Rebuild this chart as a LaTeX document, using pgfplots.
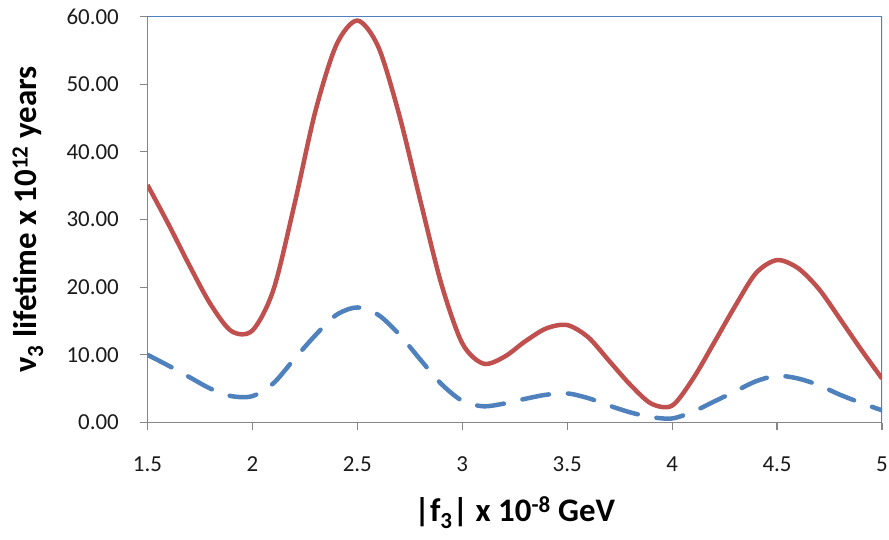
\documentclass[border=0pt]{standalone}
\usepackage{fontspec}
\setmainfont{Carlito}
\usepackage{pgfplots}
\pgfplotsset{compat=1.18}

\definecolor{exred}{RGB}{192,80,77}
\definecolor{exblue}{RGB}{79,129,189}
\definecolor{axgray}{RGB}{134,134,134}
\definecolor{txt}{RGB}{26,26,26}

\begin{document}
\begin{tikzpicture}
\begin{axis}[
    scale only axis,
    width=734.5bp, height=406bp,
    xmin=1.5, xmax=5,
    ymin=0, ymax=60,
    xtick={1.5,2,2.5,3,3.5,4,4.5,5},
    ytick={0,10,20,30,40,50,60},
    axis x line*=bottom,
    axis y line*=left,
    axis line style={-, draw=axgray, line width=1.2bp},
    tick style={draw=axgray, line width=1.2bp},
    tick align=outside,
    major tick length=7bp,
    /pgf/number format/assume math mode=true,
    yticklabel style={/pgf/number format/.cd, fixed, fixed zerofill, precision=2, /tikz/.cd},
    ticklabel style={font=\fontsize{23}{27}\selectfont, text=txt, inner sep=0pt},
    xticklabel style={anchor=north, yshift=-34bp+7bp},
    yticklabel style={anchor=east, xshift=-28.5bp+7bp},
    xlabel={\textbf{|f\textsubscript{3}| x 10\textsuperscript{-8} GeV}},
    ylabel={\textbf{ν\textsubscript{3} lifetime x 10\textsuperscript{12} years}},
    label style={font=\fontsize{33}{37}\selectfont, text=black},
    xlabel style={at={(axis description cs:0.5,-0.2438)}, anchor=base},
    ylabel style={at={(axis description cs:-0.1627,0.5)}, anchor=center},
]
\draw[exblue, line width=1.3bp] (rel axis cs:0,1) -- (rel axis cs:1,1) -- (rel axis cs:1,0);

% red series
\addplot[exred, line width=4.5bp, smooth] coordinates {
    (1.5,35.1) (1.6,29.3) (1.7,23.2) (1.8,17.5) (1.9,13.5) (2.0,13.6)
    (2.1,19.6) (2.2,32.2) (2.3,46.0) (2.4,55.8) (2.5,59.4) (2.6,55.5)
    (2.7,45.4) (2.8,32.8) (2.9,20.5) (3.0,11.7) (3.1,8.7) (3.2,9.7)
    (3.3,12.0) (3.4,13.9) (3.5,14.4) (3.6,12.6) (3.7,9.1) (3.8,5.6)
    (3.9,2.8) (4.0,2.5) (4.1,6.5) (4.2,11.8) (4.3,17.2) (4.4,22.1)
    (4.5,24.0) (4.6,22.8) (4.7,19.7) (4.8,15.3) (4.9,10.8) (5.0,6.5)
};
% blue series
\addplot[exblue, line width=4.5bp, smooth, line cap=round, dash pattern=on 27bp off 19bp] coordinates {
    (1.5,10.0) (1.6,8.4) (1.7,6.7) (1.8,5.0) (1.9,3.9) (2.0,3.9)
    (2.1,5.8) (2.2,9.4) (2.3,12.9) (2.4,15.9) (2.5,17.0) (2.6,15.9)
    (2.7,13.0) (2.8,9.3) (2.9,5.7) (3.0,3.2) (3.1,2.4) (3.2,2.8)
    (3.3,3.5) (3.4,4.1) (3.5,4.3) (3.6,3.6) (3.7,2.5) (3.8,1.5)
    (3.9,0.8) (4.0,0.6) (4.1,1.6) (4.2,3.1) (4.3,4.6) (4.4,6.1)
    (4.5,6.9) (4.6,6.5) (4.7,5.5) (4.8,4.1) (4.9,2.9) (5.0,1.8)
};
\path (rel axis cs:0,0) coordinate (O);
\end{axis}
\pgfresetboundingbox
\path (O) ++(-147.5bp,-117.5bp) rectangle ++(889bp,540bp);
\end{tikzpicture}
\end{document}
